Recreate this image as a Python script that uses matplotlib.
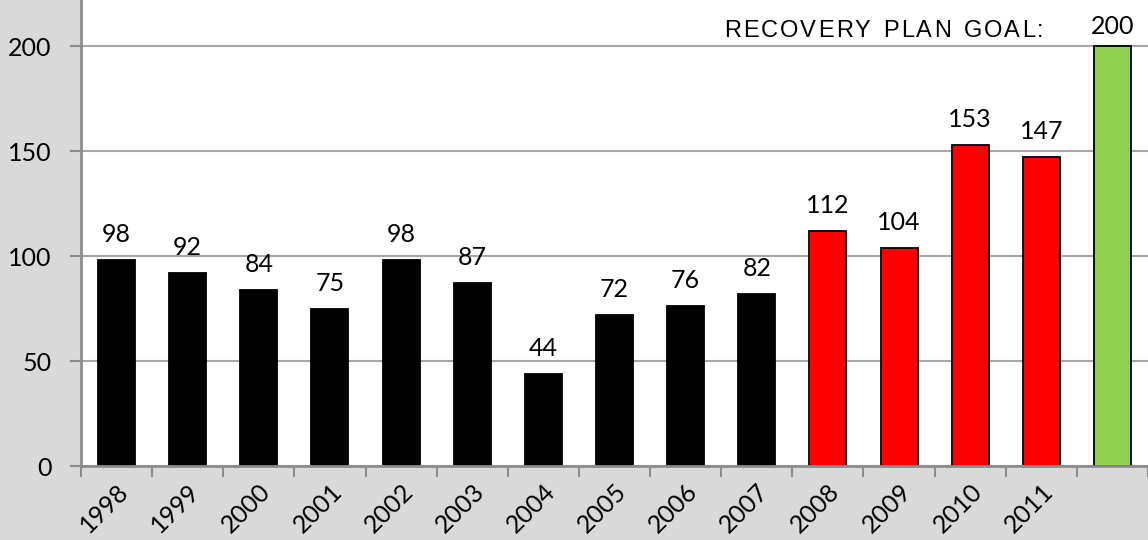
import numpy as np
import matplotlib
matplotlib.use("Agg")
import matplotlib.pyplot as plt
from matplotlib.font_manager import FontProperties, findfont
from matplotlib.ft2font import FT2Font

# data
years = ["1998", "1999", "2000", "2001", "2002", "2003", "2004",
         "2005", "2006", "2007", "2008", "2009", "2010", "2011", ""]
counts = [98, 92, 84, 75, 98, 87, 44, 72, 76, 82, 112, 104, 153, 147, 200]
colors = ["black"] * 10 + ["#ff0000"] * 4 + ["#92d050"]
goal_text = "RECOVERY PLAN GOAL:"

plt.rcParams['font.family'] = ['Lato', 'DejaVu Sans']

W, H = 1148, 540
fig = plt.figure(figsize=(W / 100, H / 100), dpi=100)
fig.patch.set_facecolor("#d9d9d9")
ax = fig.add_axes([81 / W, 74 / H, 1 - 81 / W, 466 / H])
ax.set_facecolor("white")

x = np.arange(len(counts))
ax.bar(x, counts, width=0.52, color=colors, edgecolor="black", linewidth=1.3, zorder=3)

ax.set_xlim(-0.5, len(counts) - 0.5)
ax.set_ylim(0, 222)
ax.set_yticks([0, 50, 100, 150, 200])
ax.yaxis.grid(True, color="#a6a6a6", linewidth=1.5, zorder=0)

# tick marks between categories, labels at centres
ax.set_xticks(np.arange(len(counts) + 1) - 0.5)
ax.set_xticklabels([])
ax.set_xticks(x, minor=True)
ax.set_xticklabels(years, minor=True, rotation=45, ha="right", va="top",
                   rotation_mode="anchor", fontsize=18)
ax.tick_params(axis="x", which="minor", length=0, pad=10)
ax.tick_params(axis="x", which="major", length=8, width=1.5, color="#8c8c8c")
ax.tick_params(axis="y", length=8, width=1.5, color="#8c8c8c", labelsize=18, pad=13)

for s in ["top", "right"]:
    ax.spines[s].set_visible(False)
for s in ["left", "bottom"]:
    ax.spines[s].set_color("#8c8c8c")
    ax.spines[s].set_linewidth(2)
    ax.spines[s].set_zorder(4)

for i, v in enumerate(counts):
    off = 8 if i == len(counts) - 1 else 14
    ax.annotate(str(v), (i, v), xytext=(0, off * 0.72), textcoords="offset points",
                ha="center", va="bottom", fontsize=18)

# letter-spaced caption, one glyph at a time
fsize = 17
ft = FT2Font(findfont(FontProperties(family="Liberation Sans")))
ft.set_size(fsize, 100)
xp = 724
for ch in goal_text:
    fig.text(xp / W, 1 - 36.7 / H, ch, fontsize=fsize, family="Liberation Sans",
             ha="left", va="baseline")
    g = ft.load_char(ord(ch))
    xp += g.linearHoriAdvance / 65536 + 2.0
    if ch == " ":
        xp += 2

fig.savefig("out.png", dpi=100, facecolor=fig.get_facecolor())
